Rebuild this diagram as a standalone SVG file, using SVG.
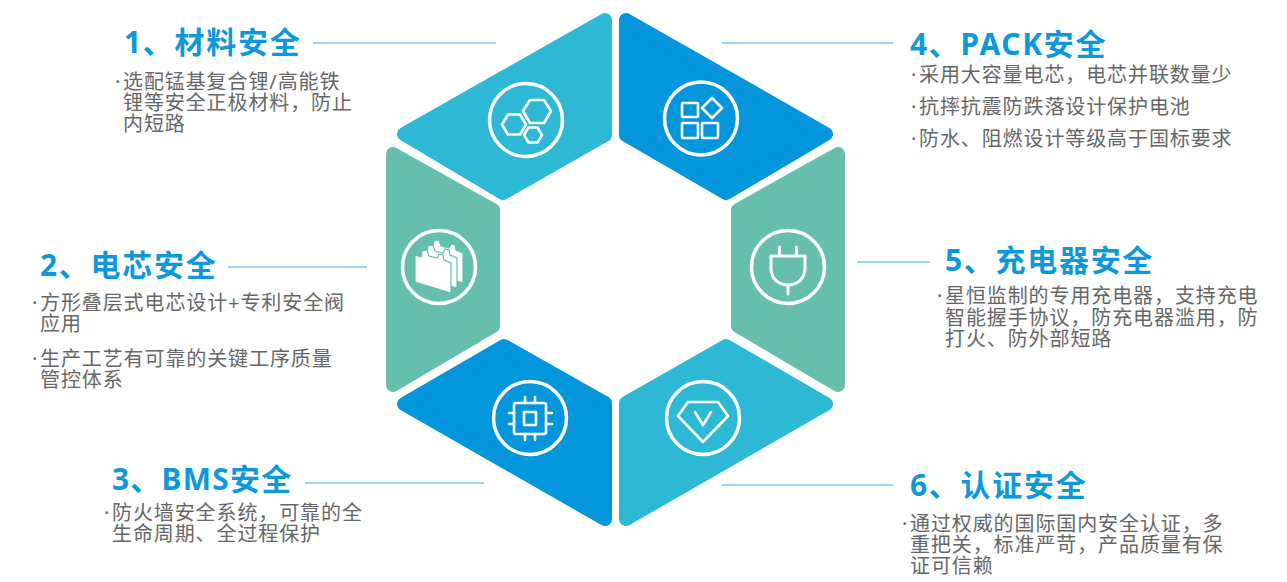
<svg xmlns="http://www.w3.org/2000/svg" width="1287" height="582" viewBox="0 0 1287 582">
<style>
.seg{stroke-width:14;stroke-linejoin:round}
.teal{fill:#2db9d6;stroke:#2db9d6}
.blue{fill:#0396dc;stroke:#0396dc}
.green{fill:#66bfae;stroke:#66bfae}
.ring{fill:none;stroke:#fff;stroke-width:3.5}
.ic{fill:none;stroke:#fff;stroke-width:2.6;stroke-linejoin:round;stroke-linecap:round}
.sheet{fill:#fff;stroke:#66bfae;stroke-width:1.2}
.ld{stroke:#82c6e8;stroke-width:1.4;fill:none}
.t{font-family:"Noto Sans","Noto Sans CJK SC",sans-serif;font-size:30px;font-weight:700;fill:#0d98db;letter-spacing:1.7px}
.b{font-family:"Noto Sans","Noto Sans CJK SC",sans-serif;font-size:20px;fill:#666;letter-spacing:.9px}
</style>
<defs>
<path id="sheet" d="M415 255L421 257L422 251L427 250L429 256L437 258L439 254L443 255L444 260L451 263V293L415 282Z"/>
</defs>
<rect width="1287" height="582" fill="#fff"/>
<g id="connectors">
<path class="ld" d="M313 43H496"/><path class="ld" d="M722 43H893"/><path class="ld" d="M228 267H367"/><path class="ld" d="M857 262H930"/><path class="ld" d="M305 483H484"/><path class="ld" d="M722 485H893"/>
</g>
<g id="node1">
<polygon class="seg teal" points="605,20 605,135 503,193 404,134"/>
<circle class="ring" cx="526" cy="120" r="36.5"/>
<path class="ic" d="M551 111L544 100H530L523 111L530 123H544Z"/>
<path class="ic" d="M526 124.500L520 114.500H508L502 124.500L508 134.500H520Z"/>
<path class="ic" d="M542 135L537.500 127.500H528.500L524 135L528.500 142.500H537.500Z"/>
<text class="t" x="124" y="53">1、材料安全</text>
<text class="b" x="115" y="89">·<tspan x="123">选配锰基复合锂/高能铁</tspan></text>
<text class="b" x="123" y="110">锂等安全正极材料&#xFF0C;防止</text>
<text class="b" x="123" y="131">内短路</text>
</g>
<g id="node2">
<polygon class="seg green" points="393,154 493,210 493,326 393,385"/>
<circle class="ring" cx="439" cy="267" r="36.5"/>
<use href="#sheet" class="sheet" x="12" y="-10"/>
<use href="#sheet" class="sheet" x="6" y="-5"/>
<use href="#sheet" class="sheet"/>
<text class="t" x="40" y="276">2、电芯安全</text>
<text class="b" x="32" y="310">·<tspan x="40">方形叠层式电芯设计+专利安全阀</tspan></text>
<text class="b" x="40" y="331">应用</text>
<text class="b" x="32" y="366">·<tspan x="40">生产工艺有可靠的关键工序质量</tspan></text>
<text class="b" x="40" y="387">管控体系</text>
</g>
<g id="node3">
<polygon class="seg blue" points="504,346 404,404 605,519 605,403"/>
<circle class="ring" cx="530" cy="418" r="36.5"/>
<rect class="ic" x="514" y="403" width="32" height="31" rx="2"/>
<rect class="ic" x="524" y="412" width="12" height="13"/>
<path class="ic" d="M525 397V403M535 397V403M525 434V440M535 434V440M509 413H514M509 424H514M546 413H552M546 424H552"/>
<text class="t" x="112" y="490" style="letter-spacing:1.2px">3、BMS安全</text>
<text class="b" x="104" y="520">·<tspan x="112">防火墙安全系统&#xFF0C;可靠的全</tspan></text>
<text class="b" x="112" y="541">生命周期、全过程保护</text>
</g>
<g id="node4">
<polygon class="seg blue" points="626,20 626,135 726,193 826,134"/>
<circle class="ring" cx="701" cy="118.500" r="36.5"/>
<rect class="ic" x="682" y="103" width="16" height="14" rx="1"/>
<rect class="ic" x="682" y="123" width="16" height="15" rx="1"/>
<rect class="ic" x="702" y="123" width="16" height="15" rx="1"/>
<path class="ic" d="M712 98L722 108L712 118L702 108Z"/>
<text class="t" x="910" y="55">4、PACK安全</text>
<text class="b" x="911" y="82">·<tspan x="919">采用大容量电芯&#xFF0C;电芯并联数量少</tspan></text>
<text class="b" x="911" y="114">·<tspan x="919">抗摔抗震防跌落设计保护电池</tspan></text>
<text class="b" x="911" y="146">·<tspan x="919">防水、阻燃设计等级高于国标要求</tspan></text>
</g>
<g id="node5">
<polygon class="seg green" points="838,154 738,210 738,326 838,385"/>
<circle class="ring" cx="788" cy="267" r="36.5"/>
<path class="ic" style="stroke-width:3" d="M771 256H805V268C805 279 797 285 788 285C779 285 771 279 771 268ZM779.500 247V256M796.500 247V256M788 285V294"/>
<text class="t" x="945" y="271">5、充电器安全</text>
<text class="b" x="937" y="303">·<tspan x="945">星恒监制的专用充电器&#xFF0C;支持充电</tspan></text>
<text class="b" x="945" y="325">智能握手协议&#xFF0C;防充电器滥用&#xFF0C;防</text>
<text class="b" x="945" y="346">打火、防外部短路</text>
</g>
<g id="node6">
<polygon class="seg teal" points="626,403 726,346 826,404 626,519"/>
<circle class="ring" cx="703" cy="418" r="36.5"/>
<path class="ic" d="M688 402H718L728 416L703 442L678 416Z"/>
<path class="ic" d="M695 412L703 425L711 412"/>
<text class="t" x="910" y="496">6、认证安全</text>
<text class="b" x="902" y="531">·<tspan x="910">通过权威的国际国内安全认证&#xFF0C;多</tspan></text>
<text class="b" x="910" y="552">重把关&#xFF0C;标准严苛&#xFF0C;产品质量有保</text>
<text class="b" x="910" y="573">证可信赖</text>
</g>
</svg>
